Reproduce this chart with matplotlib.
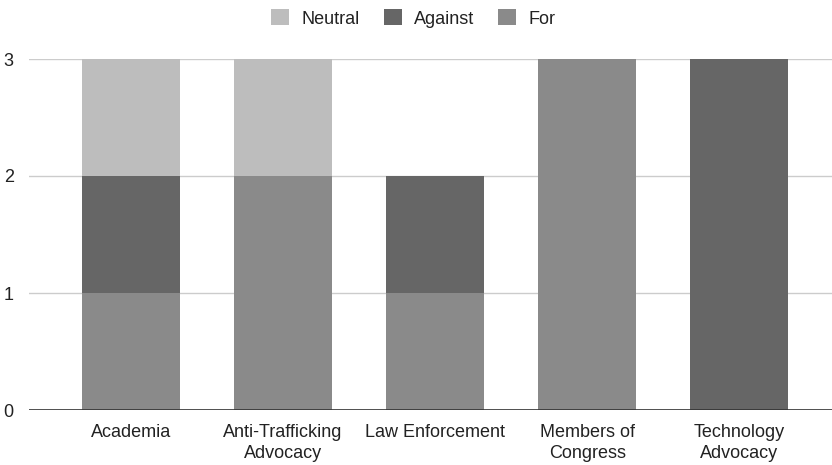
import matplotlib.pyplot as plt
import numpy as np

plt.rcParams['font.family'] = ['Liberation Sans', 'DejaVu Sans']

# stance counts by sector
categories = ['Academia', 'Anti-Trafficking\nAdvocacy', 'Law Enforcement',
              'Members of\nCongress', 'Technology\nAdvocacy']
for_vals = [1, 2, 1, 3, 0]
against_vals = [1, 0, 1, 0, 3]
neutral_vals = [1, 1, 0, 0, 0]

fig = plt.figure(figsize=(8.32, 4.65), dpi=100)
ax = fig.add_axes([29 / 832, 55 / 465, 1 - 29 / 832, 351 / 465])

x = np.arange(len(categories))
w = 0.645
f = np.array(for_vals)
a = np.array(against_vals)
n = np.array(neutral_vals)
ax.bar(x, f, w, color='#8a8a8a', label='For', zorder=2)
ax.bar(x, a, w, bottom=f, color='#666666', label='Against', zorder=2)
ax.bar(x, n, w, bottom=f + a, color='#bdbdbd', label='Neutral', zorder=2)

ax.set_xlim(-0.67, 4.61)
ax.set_ylim(0, 3)
ax.set_yticks([0, 1, 2, 3])
ax.set_xticks(x)
ax.set_xticklabels(categories, linespacing=1.35)
ax.grid(axis='y', color='#cccccc', lw=1, zorder=0)
ax.axhline(0, color='#333333', lw=1.2, zorder=3)
for s in ax.spines.values():
    s.set_visible(False)
ax.tick_params(axis='both', length=0, labelsize=13, colors='#222222')
ax.tick_params(axis='y', pad=11)
ax.tick_params(axis='x', pad=10)

h, l = ax.get_legend_handles_labels()
fig.legend(h[::-1], l[::-1], loc='upper center', bbox_to_anchor=(0.497, 1.015), ncol=3,
           frameon=False, fontsize=13, handlelength=1.0, handleheight=1.0,
           handletextpad=0.7, columnspacing=1.3, labelcolor='#222222')

fig.savefig('out.png', dpi=100)
